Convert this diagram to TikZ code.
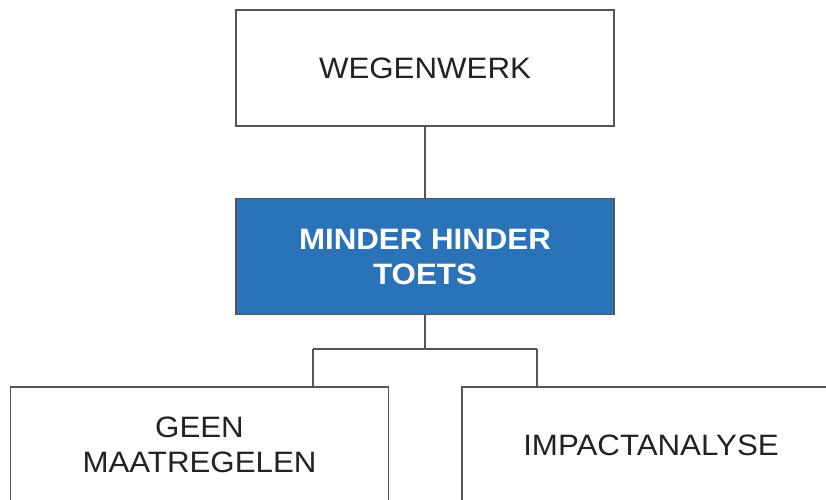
\documentclass[tikz,border=0pt]{standalone}
\usepackage{fontspec}
\setmainfont{Liberation Sans}[FakeStretch=1.06]
\definecolor{linegray}{HTML}{555555}
\definecolor{textdark}{HTML}{222222}
\definecolor{mhblue}{HTML}{2A73B8}
\begin{document}
\begin{tikzpicture}[x=1pt,y=-1pt,
  box/.style={draw=linegray, line width=1.3pt, minimum width=378pt,
    minimum height=116pt, inner sep=0pt, align=center, text=textdark,
    font=\fontsize{29.5}{35}\selectfont},
  keybox/.style={box, fill=mhblue, text=white,
    font=\fontsize{29.5}{35}\selectfont\bfseries},
  link/.style={draw=linegray, line width=1.3pt}]
\useasboundingbox (0,0) rectangle (826,499);
\clip (0,0) rectangle (826,499);

\node[box]    (weg)    at (425,68)    {WEGENWERK};
\node[keybox] (mht)    at (425,256.5) {MINDER HINDER\\TOETS};
\node[box]    (geen)   at (199.5,445) {GEEN\\MAATREGELEN};
\node[box]    (impact) at (651,445)   {IMPACTANALYSE};

\coordinate (fork) at (425,349);
\coordinate (jl) at (313,349);
\coordinate (jr) at (537,349);

\draw[link] (weg.south) -- (mht.north);
\draw[link] (mht.south) -- (fork);
\draw[link] (jl) -- (jr);
\draw[link] (jl) -- (jl |- geen.north);
\draw[link] (jr) -- (jr |- impact.north);
\end{tikzpicture}
\end{document}
